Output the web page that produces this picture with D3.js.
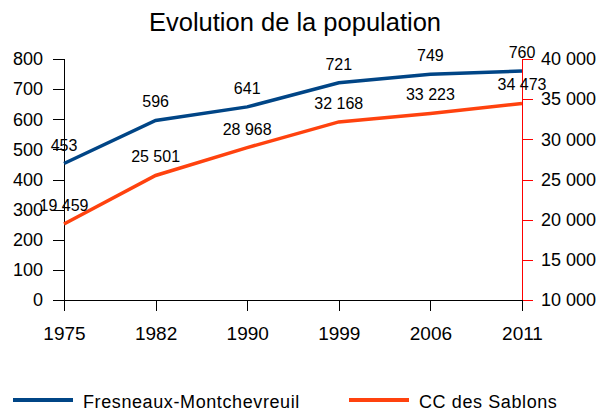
<!DOCTYPE html>
<html>
<head>
<meta charset="utf-8">
<script src="https://cdn.jsdelivr.net/npm/d3@7"></script>
<style>
  body { margin: 0; background: #fff; }
  svg text { font-family: "Liberation Sans", Arial, sans-serif; fill: #000; }
</style>
</head>
<body>
<div id="chart"></div>
<script>
(function(){
    'use strict';

    var years = ["1975", "1982", "1990", "1999", "2006", "2011"];
    var fresneaux = [453, 596, 641, 721, 749, 760];
    var sablons = [19459, 25501, 28968, 32168, 33223, 34473];
    var leftTicks = [0, 100, 200, 300, 400, 500, 600, 700, 800];
    var rightTicks = [10000, 15000, 20000, 25000, 30000, 35000, 40000];

    var width = 602, height = 411;
    var left = 64, right = 522, top = 59, bottom = 300;
    var blue = "#004586", orange = "#ff420e";

    var fmt = function(v) { return d3.format(",")(v).replace(/,/g, " "); };

    var svg = d3.select("#chart").append("svg")
        .attr("width", width)
        .attr("height", height);

    var x = d3.scalePoint().domain(years).range([left, right]);
    var yL = d3.scaleLinear().domain([0, 800]).range([bottom, top]);
    var yR = d3.scaleLinear().domain([10000, 40000]).range([bottom, top]);

    svg.append("text")
        .attr("x", 295).attr("y", 31)
        .attr("text-anchor", "middle")
        .style("font-size", "25.5px")
        .text("Evolution de la population");

    // left axis
    var gl = svg.append("g")
        .attr("transform", "translate(" + left + ",0)")
        .call(d3.axisLeft(yL).tickValues(leftTicks).tickSize(11).tickPadding(10));
    gl.selectAll("text").style("font-size", "18px");

    // right axis (red)
    var gr = svg.append("g")
        .attr("transform", "translate(" + right + ",0)")
        .call(d3.axisRight(yR).tickValues(rightTicks).tickFormat(fmt).tickSize(11).tickPadding(8));
    gr.selectAll("line, path").attr("stroke", "#ff0000");
    gr.selectAll("text").style("font-size", "18px");

    // x axis
    var gx = svg.append("g")
        .attr("transform", "translate(0," + bottom + ")")
        .call(d3.axisBottom(x).tickSize(11));
    gx.selectAll("text").style("font-size", "19px").attr("y", 40).attr("dy", null);
    gx.select(".domain").attr("d", "M" + left + ",0H" + right);

    [gl, gr, gx].forEach(function(g) { g.selectAll("path, line").attr("shape-rendering", "crispEdges"); });
    gl.select(".domain").attr("d", "M0," + bottom + "V" + top);
    gr.select(".domain").attr("d", "M0," + bottom + "V" + top);

    var lineL = d3.line().x(function(d, i) { return x(years[i]); }).y(function(d) { return yL(d); });
    var lineR = d3.line().x(function(d, i) { return x(years[i]); }).y(function(d) { return yR(d); });

    svg.append("path").datum(sablons)
        .attr("d", lineR).attr("fill", "none")
        .attr("stroke", orange).attr("stroke-width", 3.5);
    svg.append("path").datum(fresneaux)
        .attr("d", lineL).attr("fill", "none")
        .attr("stroke", blue).attr("stroke-width", 3.5);

    svg.append("g").selectAll("text").data(fresneaux).enter()
        .append("text")
        .attr("x", function(d, i) { return x(years[i]); })
        .attr("y", function(d) { return yL(d) - 13; })
        .attr("text-anchor", "middle")
        .style("font-size", "16px")
        .text(fmt);

    svg.append("g").selectAll("text").data(sablons).enter()
        .append("text")
        .attr("x", function(d, i) { return x(years[i]); })
        .attr("y", function(d) { return yR(d) - 13; })
        .attr("text-anchor", "middle")
        .style("font-size", "16px")
        .text(fmt);

    // legend
    var legend = [{name: "Fresneaux-Montchevreuil", color: blue, x: 13},
                  {name: "CC des Sablons", color: orange, x: 349}];
    var lg = svg.append("g").selectAll("g").data(legend).enter().append("g");
    lg.append("line")
        .attr("x1", function(d) { return d.x; })
        .attr("x2", function(d) { return d.x + 60; })
        .attr("y1", 400).attr("y2", 400)
        .attr("stroke", function(d) { return d.color; })
        .attr("stroke-width", 4);
    lg.append("text")
        .attr("x", function(d) { return d.x + 70; })
        .attr("y", 408)
        .style("font-size", "18px")
        .style("letter-spacing", "0.6px")
        .text(function(d) { return d.name; });
})()
</script>
</body>
</html>
